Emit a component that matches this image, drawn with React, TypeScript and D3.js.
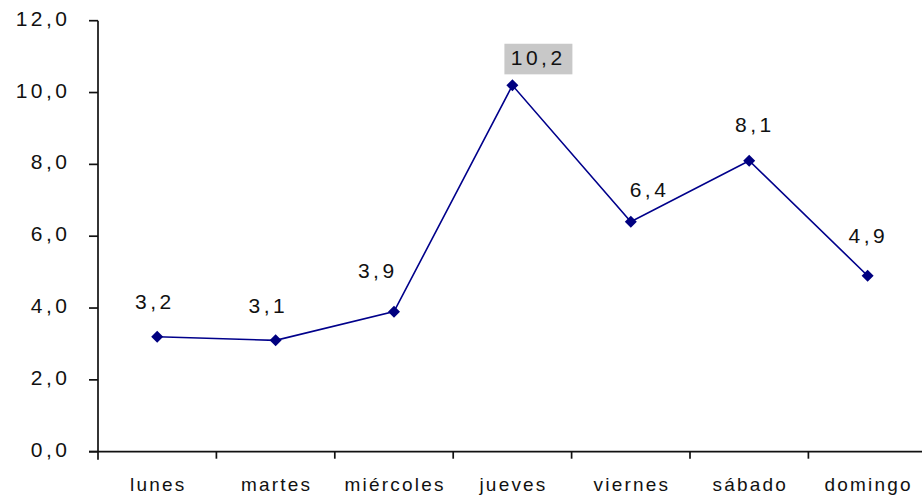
import React from "react";
import * as d3 from "d3";

// Daily values, Monday to Sunday
const days = ["lunes", "martes", "miércoles", "jueves", "viernes", "sábado", "domingo"];
const values = [3.2, 3.1, 3.9, 10.2, 6.4, 8.1, 4.9];
const yTicks = [0, 2, 4, 6, 8, 10, 12];
const highlightIndex = 3;

const W = 922;
const H = 496;

const esLocale = d3.formatLocale({ decimal: ",", thousands: ".", grouping: [3], currency: ["", "€"] });
const fmt = esLocale.format(".1f");

const FONT = "'Liberation Sans', Arial, sans-serif";
const NUM_SIZE = 21;
const NUM_SPACING = 3.5;
const CAT_SIZE = 19;
const CAT_SPACING = 2.2;

export default function App() {
  const x = d3.scaleBand<string>().domain(days).range([98, 98 + 7 * 118.4]).padding(0);
  const y = d3.scaleLinear().domain([0, 12]).range([451.7, 20.7]);
  const cx = (d: string) => (x(d) as number) + x.bandwidth() / 2;

  const line = d3
    .line<number>()
    .x((_, i) => cx(days[i]))
    .y((v) => y(v));

  // per-label placement relative to its point: [dx of text centre, dy of baseline]
  const labelNudge: [number, number][] = [
    [-4, -28],
    [-9, -27],
    [-18, -34],
    [24, -20],
    [17, -25],
    [4, -29],
    [-1, -33],
  ];

  const diamond = (px: number, py: number, r = 6) =>
    `M${px},${py - r}L${px + r},${py}L${px},${py + r}L${px - r},${py}Z`;

  const axisColor = "#111";
  const textColor = "#111";
  const x0 = 98;
  const yBase = y(0);

  return (
    <svg
      width={W}
      height={H}
      viewBox={`0 0 ${W} ${H}`}
      style={{ position: "absolute", left: 0, top: 0, background: "#fff" }}
      fontFamily={FONT}
    >
      <rect x={0} y={0} width={W} height={H} fill="#fff" />

      {/* y axis */}
      <line x1={x0} x2={x0} y1={y(12)} y2={yBase + 8} stroke={axisColor} strokeWidth={1.7} />
      {yTicks.map((t) => (
        <g key={t}>
          <line x1={x0 - 9} x2={x0} y1={y(t)} y2={y(t)} stroke={axisColor} strokeWidth={1.7} />
          <text
            x={67 + NUM_SPACING}
            y={y(t) + 5}
            textAnchor="end"
            fontSize={NUM_SIZE}
            letterSpacing={NUM_SPACING}
            fill={textColor}
          >
            {fmt(t)}
          </text>
        </g>
      ))}

      {/* x axis */}
      <line x1={x0 - 9} x2={W} y1={yBase} y2={yBase} stroke={axisColor} strokeWidth={1.7} />
      {days.slice(1).map((d) => (
        <line
          key={d}
          x1={x(d) as number}
          x2={x(d) as number}
          y1={yBase}
          y2={yBase + 7}
          stroke={axisColor}
          strokeWidth={1.7}
        />
      ))}
      {days.map((d) => (
        <text
          key={d}
          x={cx(d) + CAT_SPACING / 2}
          y={491}
          textAnchor="middle"
          fontSize={CAT_SIZE}
          letterSpacing={CAT_SPACING}
          fill={textColor}
        >
          {d}
        </text>
      ))}

      {/* series */}
      <path d={line(values) ?? ""} fill="none" stroke="#00008b" strokeWidth={1.6} />
      {values.map((v, i) => (
        <path key={i} d={diamond(cx(days[i]), y(v))} fill="#000080" />
      ))}

      {/* value labels */}
      {values.map((v, i) => {
        const lx = cx(days[i]) + labelNudge[i][0];
        const ly = y(v) + labelNudge[i][1];
        return (
          <g key={i}>
            {i === highlightIndex && (
              <rect x={lx - 32} y={ly - 21.6} width={68} height={30.6} fill="#c8c8c8" />
            )}
            <text
              x={lx + NUM_SPACING / 2}
              y={ly}
              textAnchor="middle"
              fontSize={NUM_SIZE}
              letterSpacing={NUM_SPACING}
              fill={textColor}
            >
              {fmt(v)}
            </text>
          </g>
        );
      })}
    </svg>
  );
}
